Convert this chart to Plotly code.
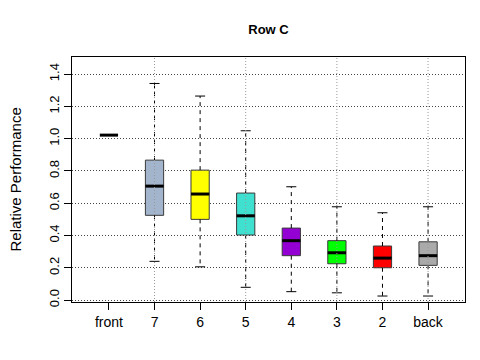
import plotly.graph_objects as go

labels = ["front", "7", "6", "5", "4", "3", "2", "back"]
lower = [1.022, 0.240, 0.206, 0.079, 0.052, 0.045, 0.025, 0.025]
q1 = [1.022, 0.525, 0.500, 0.403, 0.275, 0.225, 0.200, 0.215]
median = [1.022, 0.706, 0.657, 0.522, 0.368, 0.293, 0.260, 0.275]
q3 = [1.022, 0.867, 0.805, 0.663, 0.446, 0.368, 0.335, 0.361]
upper = [1.022, 1.342, 1.264, 1.049, 0.702, 0.578, 0.541, 0.578]
colors = ["#000000", "#A2B5CD", "#FFFF00", "#40E0D0", "#9400D3", "#00FF00", "#FF0000", "#AAAAAA"]

pos = list(range(1, len(labels) + 1))
bw = 0.2   # half box width
cw = 0.11  # half cap width

fig = go.Figure()

# dashed whiskers
wx, wy = [], []
for p, lo, a, b, hi in zip(pos, lower, q1, q3, upper):
    wx += [p, p, None, p, p, None]
    wy += [b, hi, None, a, lo, None]
fig.add_trace(go.Scatter(x=wx, y=wy, mode="lines", hoverinfo="skip",
                         line=dict(color="black", width=1, dash="4px,4px")))

# caps
cx, cy = [], []
for p, lo, hi in zip(pos, lower, upper):
    cx += [p - cw, p + cw, None, p - cw, p + cw, None]
    cy += [hi, hi, None, lo, lo, None]
fig.add_trace(go.Scatter(x=cx, y=cy, mode="lines", hoverinfo="skip",
                         line=dict(color="black", width=1)))

# boxes
for p, a, m, b, c in zip(pos[1:], q1[1:], median[1:], q3[1:], colors[1:]):
    fig.add_trace(go.Box(x=[p], q1=[a], median=[m], q3=[b], lowerfence=[a], upperfence=[b],
                         width=2 * bw, fillcolor=c, whiskerwidth=0,
                         line=dict(color="#3a3a3a", width=1), hoverinfo="skip"))

# thick medians
mx, my = [], []
for p, m in zip(pos, median):
    mx += [p - bw, p + bw, None]
    my += [m, m, None]
fig.add_trace(go.Scatter(x=mx, y=my, mode="lines", hoverinfo="skip",
                         line=dict(color="black", width=3)))

# vertical dotted grid (drawn over boxes, every other category)
for p in pos[1::2]:
    fig.add_shape(type="line", x0=p, x1=p, y0=0, y1=1, yref="paper", layer="above",
                  line=dict(color="#999999", width=1, dash="1px,2px"))

# page body has an 8px margin, so the figure is a bit smaller than the window
W, H = 472, 352
fig.update_layout(
    width=W, height=H, showlegend=False,
    paper_bgcolor="white", plot_bgcolor="white",
    margin=dict(l=64, r=15, t=49, b=58, autoexpand=False),
    font=dict(family="Liberation Sans, Arial, sans-serif", size=13, color="black"),
    title=dict(text="<b>Row C</b>", x=0.5, xref="paper", y=1 - 21 / H, yref="container",
               xanchor="center", yanchor="middle", font=dict(size=13), automargin=False),
    annotations=[dict(text="Relative Performance", textangle=-90, xref="paper", yref="paper",
                      x=(15 - 72) / 393, y=0.5, xanchor="center", yanchor="middle",
                      showarrow=False, font=dict(size=15))],
)
fig.update_xaxes(range=[0.19, 8.81], tickvals=pos, ticktext=labels, showgrid=False,
                 zeroline=False, showline=True, linecolor="black", linewidth=1, mirror=True,
                 ticks="outside", ticklen=7, tickcolor="black", automargin=False,
                 tickfont=dict(size=14))
fig.update_yaxes(range=[-0.012, 1.506], tickvals=[0, 0.2, 0.4, 0.6, 0.8, 1.0, 1.2, 1.4],
                 ticktext=["0.0", "0.2", "0.4", "0.6", "0.8", "1.0", "1.2", "1.4"],
                 tickangle=-90, showgrid=True, gridcolor="#444444", griddash="1px,2px",
                 zeroline=False, showline=True, linecolor="black", linewidth=1, mirror=True,
                 ticks="outside", ticklen=7, tickcolor="black", automargin=False,
                 tickfont=dict(size=13))

fig.write_html("out.html")
